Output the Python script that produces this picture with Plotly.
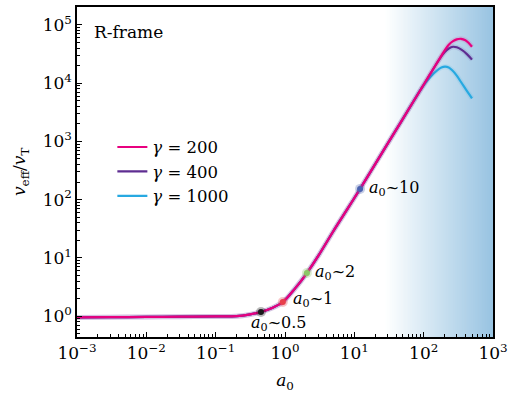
import math
import plotly.graph_objects as go

# ---------------- data ----------------
a0_common = [0.001, 0.003, 0.01, 0.03, 0.1, 0.2, 0.3, 0.45, 0.65, 0.93, 1.4, 2.07, 3, 5, 8, 12.1, 20, 40, 70, 88.5]
v_common = [0.95, 0.96, 0.97, 0.98, 0.99, 1.0, 1.06, 1.18, 1.38, 1.75, 3.0, 5.5, 10.7, 29, 70, 153, 408, 1575, 4690, 7410]

a0_g200_tail = [100, 130, 175, 200, 230, 265, 300, 346, 400, 450, 498]
v_g200_tail = [9400, 15700, 28000, 36300, 45500, 52500, 56500, 57700, 54500, 48500, 42100]

a0_g400_tail = [100, 130, 150, 175, 200, 230, 265, 300, 350, 420, 498]
v_g400_tail = [9400, 15700, 20700, 27500, 34000, 39300, 42100, 41200, 37500, 31500, 25300]

a0_g1000_tail = [105, 125, 155, 180, 203, 230, 256, 300, 334, 408, 498]
v_g1000_tail = [9900, 12800, 16400, 18500, 19200, 18600, 16800, 13500, 11100, 7770, 5460]

series_names = ["<i>γ</i> = 200", "<i>γ</i> = 400", "<i>γ</i> = 1000"]
series_colors = ["#e8007f", "#5e2d91", "#27a9e1"]

marker_a0 = [0.45, 0.93, 2.07, 12.1]
marker_v = [1.18, 1.75, 5.5, 153]
marker_labels = ["0.5", "1", "2", "10"]
marker_colors = ["#1a1a1a", "#e8404a", "#8cc866", "#4a62b0"]

x_tickvals = [1e-3, 1e-2, 1e-1, 1e0, 1e1, 1e2, 1e3]
x_ticktext = ["10<sup>−3</sup>", "10<sup>−2</sup>", "10<sup>−1</sup>", "10<sup>0</sup>",
              "10<sup>1</sup>", "10<sup>2</sup>", "10<sup>3</sup>"]
y_tickvals = [1e0, 1e1, 1e2, 1e3, 1e4, 1e5]
y_ticktext = ["10<sup>0</sup>", "10<sup>1</sup>", "10<sup>2</sup>", "10<sup>3</sup>",
              "10<sup>4</sup>", "10<sup>5</sup>"]

FONT = "DejaVu Serif"

fig = go.Figure()

series = [
    (a0_common + a0_g200_tail, v_common + v_g200_tail),
    (a0_common + a0_g400_tail, v_common + v_g400_tail),
    (a0_common + a0_g1000_tail, v_common + v_g1000_tail),
]

# draw order: cyan, purple, pink (pink on top); legend order pink, purple, cyan
for idx in [2, 1, 0]:
    xs, ys = series[idx]
    fig.add_trace(go.Scatter(x=xs, y=ys, mode="lines", line=dict(color=series_colors[idx], width=5, shape="spline"),
                             opacity=0.12, showlegend=False, hoverinfo="skip"))
    fig.add_trace(go.Scatter(x=xs, y=ys, mode="lines", name=series_names[idx],
                             line=dict(color=series_colors[idx], width=2.2, shape="spline"),
                             legendrank=idx + 1))

# markers
fig.add_trace(go.Scatter(x=marker_a0, y=marker_v, mode="markers",
                         marker=dict(size=10, color=marker_colors, opacity=0.3),
                         showlegend=False, hoverinfo="skip"))
fig.add_trace(go.Scatter(x=marker_a0, y=marker_v, mode="markers",
                         marker=dict(size=6, color=marker_colors),
                         showlegend=False))

# marker labels
label_offsets = [(-12, -12, "left"), (8, 2, "left"), (6, 1, "left"), (7, 0, "left")]
for a, v, lab, (dx, dy, anc) in zip(marker_a0, marker_v, marker_labels, label_offsets):
    fig.add_annotation(x=math.log10(a), y=math.log10(v), xref="x", yref="y",
                       text="<i>a</i><sub>0</sub>~" + lab, showarrow=False,
                       xanchor=anc, yanchor="middle", xshift=dx, yshift=dy,
                       font=dict(family=FONT, size=16, color="black"))

# R-frame label
fig.add_annotation(x=0.036, y=0.925, xref="paper", yref="paper", text="R-frame",
                   showarrow=False, xanchor="left", yanchor="middle",
                   font=dict(family=FONT, size=17, color="black"))

# y-axis title as rotated annotation
fig.add_annotation(x=-0.137, y=0.5, xref="paper", yref="paper",
                   text="<i>v</i><sub>eff</sub>/<i>v</i><sub>T</sub>", textangle=-90,
                   showarrow=False, xanchor="center", yanchor="middle",
                   font=dict(family=FONT, size=17, color="black"))

# background gradient (paper coordinates)
g0, g1 = 0.74, 1.0
end_rgb = (152, 196, 226)
n = 60
shapes = []
for i in range(n):
    f0 = g0 + (g1 - g0) * i / n
    f1 = g0 + (g1 - g0) * (i + 1) / n
    t = (i + 0.5) / n
    r = round(255 + (end_rgb[0] - 255) * t)
    g = round(255 + (end_rgb[1] - 255) * t)
    b = round(255 + (end_rgb[2] - 255) * t)
    shapes.append(dict(type="rect", xref="paper", yref="paper", x0=f0, x1=f1 + 0.002, y0=0, y1=1,
                       fillcolor=f"rgb({r},{g},{b})", line=dict(width=0), layer="below"))

x_minor = [k * 10 ** e for e in range(-3, 3) for k in range(2, 10)]
y_minor = [k * 10 ** e for e in range(-1, 6) for k in range(2, 10)]

fig.update_layout(
    width=515, height=396,
    margin=dict(l=77, r=22, t=5, b=59),
    paper_bgcolor="white", plot_bgcolor="white",
    shapes=shapes,
    font=dict(family=FONT, size=17, color="black"),
    showlegend=True,
    legend=dict(x=0.085, y=0.628, xanchor="left", yanchor="top", bgcolor="rgba(0,0,0,0)",
                font=dict(family=FONT, size=16.5), tracegroupgap=0, itemwidth=30),
    xaxis=dict(type="log", range=[-3, 3], showgrid=False, zeroline=False,
               showline=True, linecolor="black", linewidth=1.5, mirror=True,
               ticks="inside", ticklen=5, tickwidth=1, tickcolor="black",
               tickmode="array", tickvals=x_tickvals, ticktext=x_ticktext,
               minor=dict(ticks="inside", ticklen=3, tickwidth=0.8, tickcolor="black",
                          tickmode="array", tickvals=x_minor, showgrid=False),
               title=dict(text="<i>a</i><sub>0</sub>", standoff=12, font=dict(family=FONT, size=17))),
    yaxis=dict(type="log", range=[-0.358, 5.307], showgrid=False, zeroline=False,
               showline=True, linecolor="black", linewidth=1.5, mirror=True,
               ticks="inside", ticklen=5, tickwidth=1, tickcolor="black",
               tickmode="array", tickvals=y_tickvals, ticktext=y_ticktext,
               minor=dict(ticks="inside", ticklen=3, tickwidth=0.8, tickcolor="black",
                          tickmode="array", tickvals=y_minor, showgrid=False)),
)

fig.write_html("out.html", config={"displayModeBar": False},
               post_script="document.body.style.margin='0px';")
